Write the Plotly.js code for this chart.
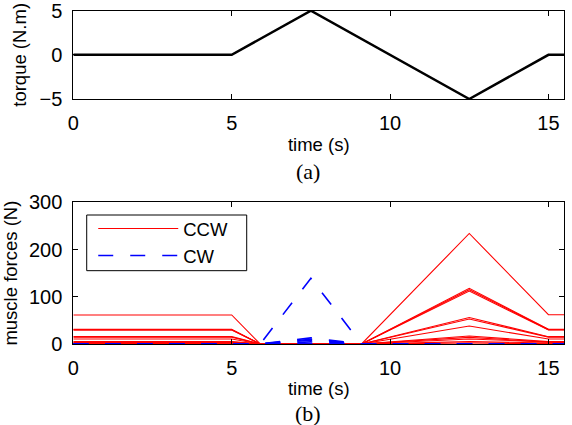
<!DOCTYPE html>
<html>
<head>
<meta charset="utf-8">
<script src="https://cdn.plot.ly/plotly-3.0.1.min.js"></script>
<style>
  html, body { margin: 0; padding: 0; background: #fff; }
  #chart { width: 572px; height: 425px; }
</style>
</head>
<body>
<div id="chart"></div>
<script>
// ---- Panel (a): torque profile ----
const torqueTime = [0, 5, 7.5, 12.5, 15, 15.5];
const torqueValue = [0, 0, 5, -5, 0, 0];

// ---- Panel (b): muscle forces ----
// CCW muscles: time points and values (start level, peak at 12.5 s, end level)
const ccwTime = [0, 5, 5.9, 9.1, 12.5, 15, 15.5];
const ccwStart = [61.5, 31, 30, 29.5, 15.5, 14.5, 10.5, 5, 4, 3, 1.5, 0.5];
const ccwPeak  = [234, 118, 115, 112, 56, 53, 38, 17, 14, 10.5, 5, 2];
const ccwEnd   = [62, 31, 30.5, 30, 15.5, 14.5, 10.5, 5, 4, 3, 1.5, 0.5];

// CW muscles: peak at 7.5 s, zero elsewhere
const cwTime = [0, 5.9, 7.5, 9.1, 15.5];
const cwPeak = [139, 13, 10, 8, 4.5, 0, 0];

const xTicks = [0, 5, 10, 15];
const torqueTicks = [-5, 0, 5];
const forceTicks = [0, 100, 200, 300];

const FONT = 'Liberation Sans, Arial, sans-serif';
const FS = 18.5;
const TFS = 20;

const traces = [];
traces.push({
  x: torqueTime, y: torqueValue, type: 'scatter', mode: 'lines',
  xaxis: 'x', yaxis: 'y', showlegend: false,
  line: {color: '#000000', width: 2.5}
});

ccwStart.forEach((s, i) => {
  traces.push({
    x: ccwTime,
    y: [s, s, 0, 0, ccwPeak[i], ccwEnd[i], ccwEnd[i]],
    type: 'scatter', mode: 'lines', xaxis: 'x2', yaxis: 'y2',
    name: 'CCW', legendgroup: 'ccw', showlegend: i === 0,
    line: {color: '#ff0000', width: 1.1}
  });
});
cwPeak.forEach((p, i) => {
  traces.push({
    x: cwTime,
    y: [0, 0, p, 0, 0],
    type: 'scatter', mode: 'lines', xaxis: 'x2', yaxis: 'y2',
    name: 'CW', legendgroup: 'cw', showlegend: i === 0,
    line: {color: '#0000ff', width: 1.6, dash: '15px,17px'}
  });
});

const axBase = {
  showline: true, linecolor: '#000', linewidth: 1, mirror: 'ticks',
  ticks: 'inside', ticklen: 5, tickcolor: '#000', tickwidth: 1,
  showgrid: false, zeroline: false, ticklabeloverflow: 'allow',
  tickfont: {family: FONT, size: TFS, color: '#000'}
};
const titleFont = {family: FONT, size: FS, color: '#000'};

const layout = {
  width: 572, height: 425,
  margin: {l: 0, r: 0, t: 0, b: 0},
  paper_bgcolor: '#fff', plot_bgcolor: '#fff',
  font: {family: FONT, size: FS, color: '#000'},
  xaxis: Object.assign({}, axBase, {
    domain: [0.1282, 0.9865], anchor: 'y', range: [0, 15.5],
    tickvals: xTicks, ticklabelstandoff: 6,
    title: {text: 'time (s)', standoff: 5, font: titleFont}
  }),
  yaxis: Object.assign({}, axBase, {
    domain: [0.7671, 0.9748], anchor: 'x', range: [-5, 5],
    tickvals: torqueTicks, ticktext: ['\u22125', '0', '5'], ticklabelstandoff: 6,
    title: {text: 'torque (N.m)', standoff: 8, font: titleFont}
  }),
  xaxis2: Object.assign({}, axBase, {
    domain: [0.1282, 0.9865], anchor: 'y2', range: [0, 15.5],
    tickvals: xTicks, ticklabelstandoff: 6,
    title: {text: 'time (s)', standoff: 4, font: titleFont}
  }),
  yaxis2: Object.assign({}, axBase, {
    domain: [0.1906, 0.5240], anchor: 'x2', range: [0, 300],
    tickvals: forceTicks, ticklabelstandoff: 6,
    title: {text: 'muscle forces (N)', standoff: 6, font: titleFont}
  }),
  showlegend: true,
  legend: {
    x: 0.163, y: 0.5059, xanchor: 'left', yanchor: 'top',
    bgcolor: 'rgba(0,0,0,0)', borderwidth: 0,
    font: {family: FONT, size: FS, color: '#000'},
    itemwidth: 80, tracegroupgap: 0
  },
  shapes: [
    {type: 'rect', xref: 'paper', yref: 'paper',
     x0: 0.1516, x1: 0.4313, y0: 0.3631, y1: 0.4941,
     line: {color: '#000', width: 1}, fillcolor: 'rgba(0,0,0,0)', layer: 'above'}
  ],
  annotations: [
    {text: '(a)', xref: 'paper', yref: 'paper', x: 0.5385, y: 0.5976,
     xanchor: 'center', yanchor: 'middle', showarrow: false,
     font: {family: 'Liberation Serif, DejaVu Serif, serif', size: 22, color: '#000'}},
    {text: '(b)', xref: 'paper', yref: 'paper', x: 0.5385, y: 0.026,
     xanchor: 'center', yanchor: 'middle', showarrow: false,
     font: {family: 'Liberation Serif, DejaVu Serif, serif', size: 22, color: '#000'}}
  ]
};

Plotly.newPlot('chart', traces, layout, {staticPlot: true, displayModeBar: false});
</script>
</body>
</html>
